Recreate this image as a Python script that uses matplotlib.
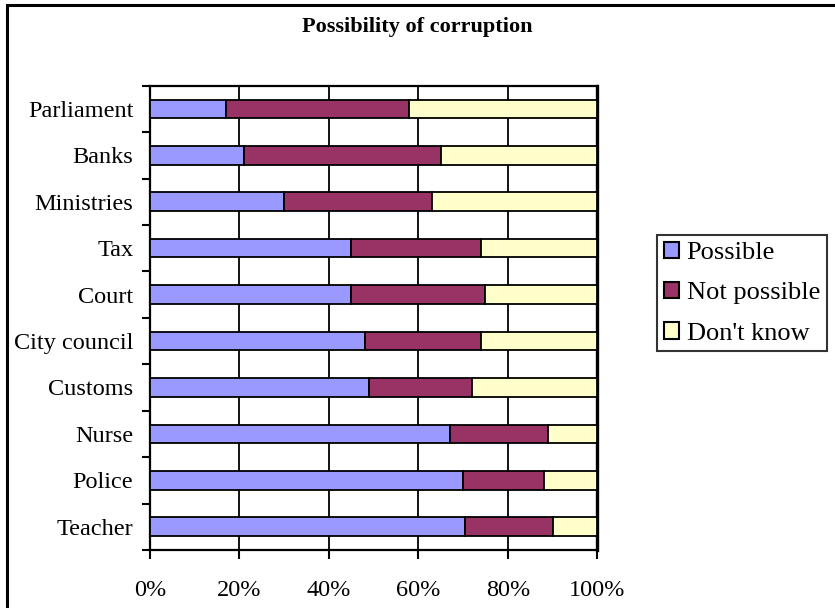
import numpy as np
import matplotlib.pyplot as plt
from matplotlib.patches import Rectangle
from matplotlib.ticker import FixedLocator, PercentFormatter

# categories listed bottom to top
categories = ["Teacher", "Police", "Nurse", "Customs", "City council",
              "Court", "Tax", "Ministries", "Banks", "Parliament"]
possible = [70.5, 70, 67, 49, 48, 45, 45, 30, 21, 17]
not_possible = [19.5, 18, 22, 23, 26, 30, 29, 33, 44, 41]
dont_know = [10, 12, 11, 28, 26, 25, 26, 37, 35, 42]

series = [("Possible", possible, "#9999FF"),
          ("Not possible", not_possible, "#993366"),
          ("Don't know", dont_know, "#FFFFCC")]

plt.rcParams["font.family"] = ["Liberation Serif", "DejaVu Serif"]

fig = plt.figure(figsize=(8.35, 6.08), dpi=100)
W, H = 835, 608
ax = fig.add_axes([150 / W, 1 - 550 / H, 447.3 / W, 464.3 / H])

y = np.arange(len(categories))
left = np.zeros(len(categories))
for name, vals, color in series:
    vals = np.array(vals, dtype=float)
    ax.barh(y, vals, left=left, height=0.4, color=color,
            edgecolor="black", linewidth=1.3, label=name, zorder=3)
    left += vals

ax.set_xlim(0, 100)
ax.set_ylim(-0.5, len(categories) - 0.5)
ax.set_xticks([0, 20, 40, 60, 80, 100])
ax.xaxis.set_major_formatter(PercentFormatter(decimals=0))
ax.grid(axis="x", color="black", linewidth=1.3, zorder=0)
ax.set_axisbelow(True)

ax.set_yticks(y)
ax.set_yticklabels(categories)
ax.yaxis.set_minor_locator(FixedLocator(np.arange(-0.5, len(categories), 1.0)))
ax.tick_params(axis="y", which="major", length=0, pad=12, labelsize=17.5)
ax.tick_params(axis="y", which="minor", length=6, width=1.5, direction="out")
ax.tick_params(axis="x", length=6.5, width=1.5, direction="out",
               pad=15, labelsize=17.5)

for side in ["left", "bottom", "top"]:
    ax.spines[side].set_linewidth(1.6)
ax.spines["right"].set_linewidth(2.4)

fig.text(0.5, 1 - 27 / H, "Possibility of corruption", ha="center",
         va="center", fontsize=16, fontweight="bold")

leg = fig.legend(loc="upper left", bbox_to_anchor=(657 / W, 1 - 235 / H),
                 fontsize=19, frameon=True, fancybox=False, edgecolor="black",
                 handlelength=0.57, handleheight=0.57, handletextpad=0.3,
                 labelspacing=0.68, borderpad=0.25, borderaxespad=0)
leg.get_frame().set_linewidth(1.5)
for p in leg.get_patches():
    p.set_linewidth(1.5)

# chart area border (runs off the right and bottom edges)
fig.patches.append(Rectangle((7 / W, -0.05), 1.2, 1 - 5 / H + 0.05,
                             transform=fig.transFigure, fill=False,
                             edgecolor="black", linewidth=2.2))

fig.savefig("out.png", dpi=100, facecolor="white")
